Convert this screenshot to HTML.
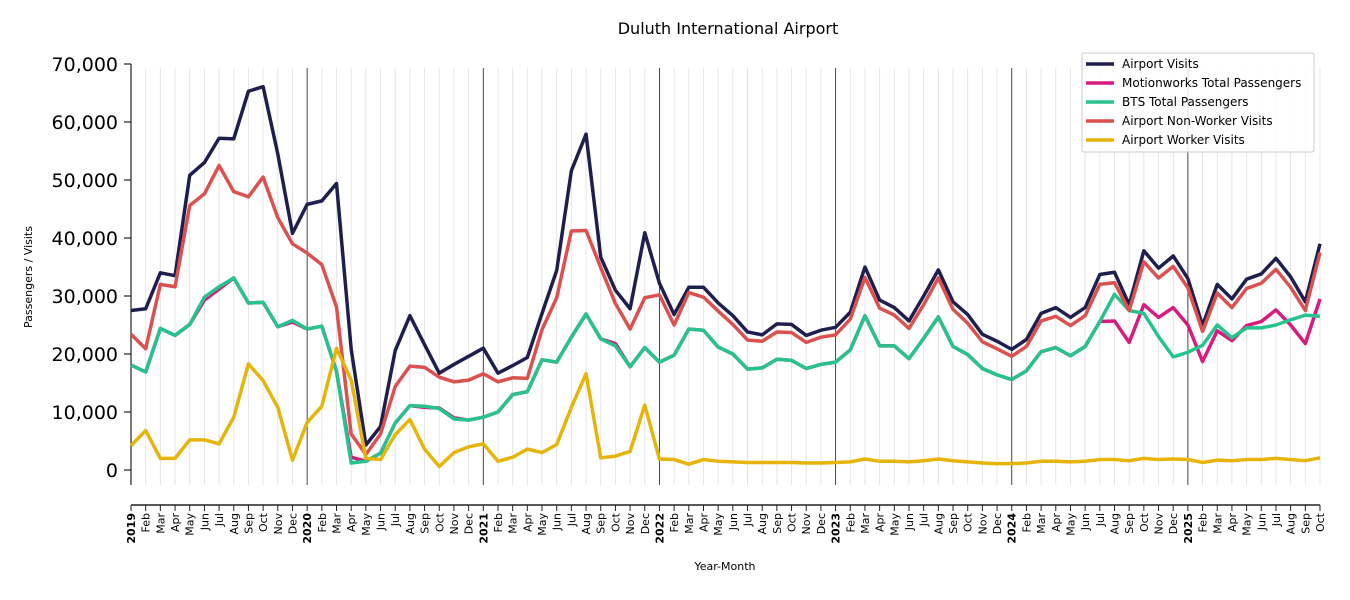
<!DOCTYPE html>
<html><head><meta charset="utf-8"><style>
html,body{margin:0;padding:0;background:#fff;}
svg{display:block;font-family:"DejaVu Sans","Liberation Sans",sans-serif;}
</style></head><body>
<svg id="c" width="1350" height="600" xmlns="http://www.w3.org/2000/svg"></svg>
<script>
const X0=131,STEP=(1320-131)/81;
const Y=v=>470-v*5.8;
const X=i=>X0+i*STEP;
const AV=[27.5,27.8,34,33.5,50.8,53,57.2,57.1,65.3,66.1,54.5,40.8,45.8,46.4,49.4,20.8,4.3,7.5,20.6,26.6,21.6,16.7,18.2,19.6,21,16.7,18,19.4,27,34.4,51.6,57.9,36.7,31,27.8,40.9,32.2,26.8,31.5,31.5,28.8,26.6,23.8,23.3,25.2,25.1,23.2,24.1,24.6,27.2,35,29.3,28,25.7,30,34.5,29,26.8,23.4,22.2,20.8,22.5,27,28,26.3,28,33.7,34.1,28.5,37.8,34.8,36.9,33,24.9,32,29.5,32.9,33.8,36.5,33.3,29,39];
const NW=[23.4,20.9,32,31.6,45.6,47.6,52.5,48,47.1,50.5,43.5,39,37.4,35.4,28.1,6.2,2.7,6.2,14.4,17.9,17.7,16,15.2,15.5,16.6,15.2,15.9,15.8,24.2,29.7,41.2,41.3,34.9,28.7,24.3,29.7,30.2,25,30.6,29.8,27.4,25.1,22.4,22.2,23.8,23.7,22,22.9,23.3,26,33.2,27.9,26.7,24.4,28.5,33.1,27.7,25.3,22.1,20.9,19.6,21.3,25.7,26.5,24.9,26.6,32,32.3,27.5,35.9,33.1,35.1,31.4,23.9,30.5,28,31.3,32.2,34.6,31.5,27.5,37.5];
const BTS=[18.1,16.9,24.4,23.2,25.1,29.8,31.6,33.1,28.8,28.9,24.7,25.8,24.3,24.8,17,1.2,1.5,2.9,8.1,11.1,11,10.6,8.8,8.6,9.1,10,13,13.5,19,18.6,22.9,26.9,22.6,21.4,17.8,21.1,18.6,19.8,24.3,24.1,21.2,20,17.4,17.6,19.1,18.9,17.5,18.2,18.6,20.7,26.6,21.4,21.4,19.2,22.7,26.4,21.3,19.9,17.5,16.4,15.6,17.1,20.4,21.1,19.7,21.3,25.6,30.3,27.5,27,23,19.5,20.3,21.5,25,22.8,24.5,24.5,25,25.9,26.7,26.5];
const MW=BTS.slice();
MW[15]=2.2;MW[16]=1.5;MW[33]=21.8;
[25.6,25.7,22,28.5,26.3,28,25,18.7,24,22.3,24.9,25.6,27.6,25,21.8,29.5].forEach((v,k)=>MW[66+k]=v);
MW[5]=29.3;MW[6]=31.2;MW[11]=25.5;MW[20]=10.8;MW[21]=10.7;MW[22]=9;
const WK=[4.2,6.8,2,2,5.2,5.2,4.5,9.1,18.3,15.4,10.8,1.7,8.2,11,21,15.5,2,1.8,6.1,8.7,3.6,0.6,3,4,4.5,1.5,2.2,3.6,3,4.4,10.8,16.6,2.1,2.4,3.2,11.2,1.9,1.8,1,1.8,1.5,1.4,1.3,1.3,1.3,1.3,1.2,1.2,1.3,1.4,1.9,1.5,1.5,1.4,1.6,1.9,1.6,1.4,1.2,1.1,1.1,1.2,1.5,1.5,1.4,1.5,1.8,1.8,1.6,2,1.8,1.9,1.8,1.3,1.7,1.6,1.8,1.8,2,1.8,1.6,2.1];
let s='';
const mn=['Jan','Feb','Mar','Apr','May','Jun','Jul','Aug','Sep','Oct','Nov','Dec'];
for(let i=0;i<82;i++){const x=X(i).toFixed(2);
 if(i%12==0&&i>0) s+=`<line x1="${x}" y1="68" x2="${x}" y2="485" stroke="#333" stroke-width="0.9"/>`;
 else if(i>0) s+=`<line x1="${x}" y1="68" x2="${x}" y2="485" stroke="#e3e3e3" stroke-width="0.9"/>`;
 s+=`<line x1="${x}" y1="505" x2="${x}" y2="511" stroke="#222" stroke-width="1"/>`;
 const yr=i%12==0;const lab=yr?(2019+i/12):mn[i%12];
 s+=`<text transform="translate(${(X(i)+4).toFixed(2)},513) rotate(-90)" text-anchor="end" font-size="11" ${yr?'font-weight="bold"':''} fill="#000">${lab}</text>`;
}
s+=`<line x1="131" y1="64" x2="131" y2="485" stroke="#222" stroke-width="1.2"/>`;
s+=`<line x1="131" y1="505" x2="1320" y2="505" stroke="#222" stroke-width="1.5"/>`;
for(let v=0;v<=70;v+=10){const y=Y(v);
 s+=`<line x1="124" y1="${y}" x2="131" y2="${y}" stroke="#222" stroke-width="1.2"/>`;
 s+=`<text x="118" y="${y+7}" text-anchor="end" font-size="19" fill="#000">${v==0?'0':v+',000'}</text>`;}
const line=(d,c)=>{s+=`<polyline fill="none" stroke="${c}" stroke-width="3.5" stroke-linejoin="round" points="${d.map((v,i)=>X(i).toFixed(2)+','+Y(v).toFixed(2)).join(' ')}"/>`;};
line(AV,'#1f1f4f');line(MW,'#d81b7f');line(BTS,'#26c38e');line(NW,'#dc5050');line(WK,'#e6b40a');
s+=`<text x="728" y="34" text-anchor="middle" font-size="16" fill="#000">Duluth International Airport</text>`;
s+=`<text transform="translate(32,277) rotate(-90)" text-anchor="middle" font-size="11" fill="#000">Passengers / Visits</text>`;
s+=`<text x="725" y="574" text-anchor="middle" font-size="11" fill="#000" dy="-4">Year-Month</text>`;
s+=`<rect x="1082" y="53" width="232" height="99" rx="2" fill="#fff" fill-opacity="0.85" stroke="#ccc"/>`;
[['Airport Visits','#1f1f4f'],['Motionworks Total Passengers','#d81b7f'],['BTS Total Passengers','#26c38e'],['Airport Non-Worker Visits','#dc5050'],['Airport Worker Visits','#e6b40a']].forEach((e,k)=>{const y=64+k*19;
 s+=`<line x1="1086" y1="${y}" x2="1114" y2="${y}" stroke="${e[1]}" stroke-width="3.5"/>`;
 s+=`<text x="1122" y="${y+4}" font-size="12" fill="#000">${e[0]}</text>`;});
document.getElementById('c').innerHTML=s;
</script>
</body></html>
